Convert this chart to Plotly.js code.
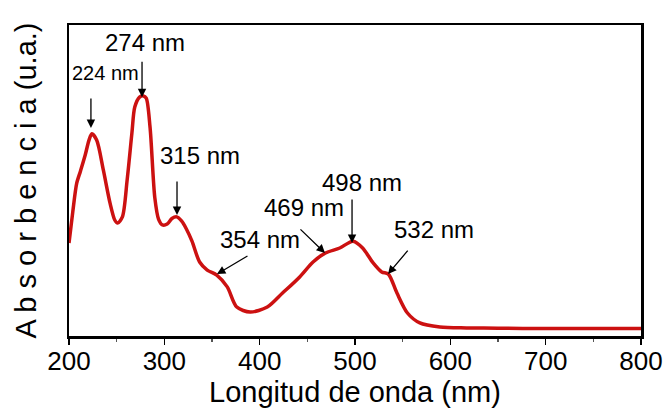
<!DOCTYPE html>
<html>
<head>
<meta charset="utf-8">
<script src="https://cdn.plot.ly/plotly-3.0.1.min.js"></script>
<style>html,body{margin:0;padding:0;background:#fff;}#chart{width:665px;height:409px;}</style>
</head>
<body>
<div id="chart"></div>
<script>
// Wavelength (nm)
const wavelength = [200,204,208,212,217,221,224,229,236,243,248,251,256,261,266,269,274,278,281,285,290,294,298,303,308,313,318,323,329,337,345,355,366,376,390,408,424,442,456,469,484,498,508,519,528,535,544,555,568,589,617,650,700,750,800];
// Absorbance (a.u., normalized)
const absorbance = [0.299,0.400,0.490,0.530,0.582,0.630,0.650,0.630,0.534,0.428,0.373,0.363,0.383,0.502,0.653,0.736,0.768,0.772,0.765,0.672,0.445,0.375,0.357,0.360,0.378,0.383,0.370,0.345,0.305,0.238,0.212,0.196,0.158,0.093,0.077,0.093,0.138,0.190,0.238,0.267,0.283,0.305,0.283,0.235,0.206,0.199,0.138,0.074,0.042,0.029,0.026,0.025,0.024,0.024,0.024];

// Band labels
const bandLabels = ['224 nm','274 nm','315 nm','354 nm','469 nm','498 nm','532 nm'];
// Arrow tips (nm, absorbance)
const arrowTipX = [223,276.6,313.3,355.2,468.5,496.9,534.6];
const arrowTipY = [0.669,0.768,0.389,0.199,0.267,0.299,0.199];
// Label centers (nm, absorbance)
const labelX = [238.8,279.7,337.4,400.4,446.5,507.4,582.9];
const labelY = [0.846,0.945,0.582,0.309,0.412,0.492,0.344];

const arrowOffsets = [[0,-31],[0,-37],[0,-35],[32,-19],[-26,-25],[0,-45],[21,-25]];
const labelSizes = [20,24,24,24,24,24,24];

const annotations = [];
bandLabels.forEach((t,i)=>{
  annotations.push({
    x: arrowTipX[i], y: arrowTipY[i], xref:'x', yref:'y', text:'',
    showarrow:true, ax: arrowOffsets[i][0], ay: arrowOffsets[i][1],
    arrowhead:2, arrowsize:1.3, arrowwidth:1.3, arrowcolor:'#000'
  });
  annotations.push({
    x: labelX[i], y: labelY[i], xref:'x', yref:'y', text:t, showarrow:false,
    font:{family:'Liberation Sans, Arial, sans-serif', size:labelSizes[i], color:'#000'},
    xanchor:'center', yanchor:'middle'
  });
});

const trace = {
  x: wavelength, y: absorbance, type:'scatter', mode:'lines',
  line:{color:'#cc1111', width:3.5, shape:'spline', smoothing:0.8},
  hoverinfo:'skip'
};

const layout = {
  width:665, height:409,
  margin:{l:69, r:24, t:25, b:73},
  paper_bgcolor:'#fff', plot_bgcolor:'#fff',
  showlegend:false,
  font:{family:'Liberation Sans, Arial, sans-serif', color:'#000'},
  xaxis:{
    range:[200,800], tickmode:'linear', tick0:200, dtick:100,
    ticks:'outside', ticklen:6, tickwidth:1.5, tickcolor:'#000',
    minor:{dtick:50, ticks:'outside', ticklen:3, tickwidth:1.2, tickcolor:'#555'},
    showline:true, linecolor:'#000', linewidth:2.5, mirror:true,
    showgrid:false, zeroline:false, ticklabelstandoff:-6,
    tickfont:{size:26, family:'Liberation Sans, Arial, sans-serif'},
    title:{text:'Longitud de onda (nm)', font:{size:29}, standoff:6}
  },
  yaxis:{
    range:[0,1], showticklabels:false, ticks:'',
    showline:true, linecolor:'#000', linewidth:2.5, mirror:true,
    showgrid:false, zeroline:false,
    title:{text:'A b s o r b e n c i a (u.a.)', font:{size:29}, standoff:22}
  },
  annotations: annotations
};

Plotly.newPlot('chart',[trace],layout,{staticPlot:true, displayModeBar:false});
</script>
</body>
</html>
